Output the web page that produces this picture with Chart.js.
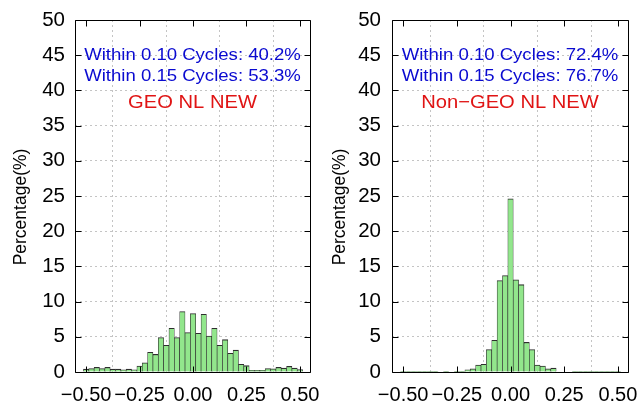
<!DOCTYPE html>
<html>
<head>
<meta charset="utf-8">
<script src="https://cdn.jsdelivr.net/npm/chart.js@4.4.1/dist/chart.umd.min.js"></script>
<style>
  html, body { margin: 0; padding: 0; background: #ffffff; }
  #wrap { position: relative; width: 639px; height: 403px; overflow: hidden; }
  canvas { position: absolute; top: 0; }
</style>
</head>
<body>
<div id="wrap">
  <canvas id="geo" width="320" height="403" style="left:0px"></canvas>
  <canvas id="nongeo" width="319" height="403" style="left:320px"></canvas>
</div>
<script>
// Histogram bin centres (cycles), bin width 0.025
const binCenters = [
  -0.500, -0.475, -0.450, -0.425, -0.400, -0.375, -0.350, -0.325, -0.300, -0.275,
  -0.250, -0.225, -0.200, -0.175, -0.150, -0.125, -0.100, -0.075, -0.050, -0.025,
   0.000,
   0.025,  0.050,  0.075,  0.100,  0.125,  0.150,  0.175,  0.200,  0.225,  0.250,
   0.275,  0.300,  0.325,  0.350,  0.375,  0.400,  0.425,  0.450,  0.475,  0.500
];

// Percentage of residuals per bin, GEO satellites
const geoPct = [
  0.40, 0.50, 0.65, 0.50, 0.65, 0.40, 0.40, 0.30, 0.40, 0.30,
  0.85, 1.30, 2.80, 2.50, 4.90, 3.80, 6.20, 4.90, 8.60, 5.60,
  8.30,
  5.50, 8.20, 5.10, 6.20, 3.80, 4.60, 2.65, 3.10, 1.10, 0.90,
  0.25, 0.25, 0.25, 0.50, 0.45, 0.65, 0.55, 0.80, 0.55, 0.35
];

// Percentage of residuals per bin, non-GEO satellites
const nonGeoPct = [
  0.10, 0.10, 0.10, 0.10, 0.10, 0.10, 0.10, 0.00, 0.10, 0.00,
  0.10, 0.10, 0.30, 0.45, 1.00, 1.10, 3.20, 4.50, 13.00, 13.70,
  24.60,
  13.10, 12.40, 4.20, 3.20, 1.00, 0.85, 0.45, 0.55, 0.00, 0.00,
  0.00, 0.10, 0.10, 0.10, 0.10, 0.10, 0.10, 0.10, 0.10, 0.10
];

const xTickValues = [-0.5, -0.25, 0, 0.25, 0.5];
const xTickLabels = ['\u22120.50', '\u22120.25', '0.00', '0.25', '0.50'];
const yTickValues = [0, 5, 10, 15, 20, 25, 30, 35, 40, 45, 50];

const yAxisTitle = 'Percentage(%)';
const geoStats = ['Within 0.10 Cycles: 40.2%', 'Within 0.15 Cycles: 53.3%'];
const geoTitle = 'GEO NL NEW';
const nonGeoStats = ['Within 0.10 Cycles: 72.4%', 'Within 0.15 Cycles: 76.7%'];
const nonGeoTitle = 'Non\u2212GEO NL NEW';

const FONT = '"Liberation Sans", Arial, Helvetica, sans-serif';

function drawStretched(ctx, text, cx, cy, size, sx, color) {
  ctx.save();
  ctx.font = size + 'px ' + FONT;
  ctx.fillStyle = color;
  ctx.textAlign = 'center';
  ctx.textBaseline = 'middle';
  ctx.translate(cx, cy);
  ctx.scale(sx, 1);
  ctx.fillText(text, 0, 0);
  ctx.restore();
}

// Box frame, inward tick marks, y-axis title and the text notes in each panel
const panelDecor = {
  id: 'panelDecor',
  afterDatasetsDraw(chart) {
    const ctx = chart.ctx;
    const a = chart.chartArea;
    const xs = chart.scales.x, ys = chart.scales.y;
    ctx.save();
    ctx.strokeStyle = '#000000';
    ctx.lineWidth = 1;
    ctx.beginPath();
    const L = Math.round(a.left) + 0.5, R = Math.round(a.right) + 0.5;
    const T = Math.round(a.top) + 0.5, B = Math.round(a.bottom) + 0.5;
    ctx.rect(L, T, R - L, B - T);
    const tl = 6;
    xTickValues.forEach(v => {
      const px = Math.round(xs.getPixelForValue(v)) + 0.5;
      ctx.moveTo(px, B); ctx.lineTo(px, B - tl);
      ctx.moveTo(px, T); ctx.lineTo(px, T + tl);
    });
    yTickValues.forEach(v => {
      const py = Math.round(ys.getPixelForValue(v)) + 0.5;
      ctx.moveTo(L, py); ctx.lineTo(L + tl, py);
      ctx.moveTo(R, py); ctx.lineTo(R - tl, py);
    });
    ctx.stroke();
    ctx.restore();
  },
  afterDraw(chart, args, opts) {
    const ctx = chart.ctx;
    const a = chart.chartArea;
    const ys = chart.scales.y;
    const cx = (a.left + a.right) / 2;
    drawStretched(ctx, opts.stats[0], cx, ys.getPixelForValue(45.0), 16, 1.16, '#0a0ad0');
    drawStretched(ctx, opts.stats[1], cx, ys.getPixelForValue(41.9), 16, 1.16, '#0a0ad0');
    drawStretched(ctx, opts.title, cx, ys.getPixelForValue(38.2), 18.5, 1.09, '#e01414');
    // y-axis title
    ctx.save();
    ctx.font = '17.5px ' + FONT;
    ctx.fillStyle = '#000000';
    ctx.textAlign = 'center';
    ctx.textBaseline = 'middle';
    ctx.translate(opts.titleX, 207);
    ctx.rotate(-Math.PI / 2);
    ctx.fillText(yAxisTitle, 0, 0);
    ctx.restore();
  }
};

function makePanel(id, values, stats, title, yAxisWidth, padRight, tickPad, titleX) {
  return new Chart(document.getElementById(id), {
    type: 'bar',
    data: {
      datasets: [{
        data: binCenters.map((c, i) => ({ x: c, y: values[i] })),
        backgroundColor: '#92e68c',
        borderColor: '#2e2e2e',
        borderWidth: { top: 1.1, left: 0.65, right: 0.65, bottom: 0 },
        borderSkipped: 'start',
        barPercentage: 1,
        categoryPercentage: 1
      }]
    },
    options: {
      responsive: false,
      animation: false,
      devicePixelRatio: 1,
      layout: { padding: { left: 0, right: padRight, top: 20, bottom: 0 } },
      plugins: {
        legend: { display: false },
        tooltip: { enabled: false },
        panelDecor: { stats: stats, title: title, titleX: titleX }
      },
      scales: {
        x: {
          type: 'linear',
          min: -0.552,
          max: 0.547,
          offset: false,
          afterBuildTicks: s => { s.ticks = xTickValues.map(v => ({ value: v })); },
          afterFit: s => { s.height = 31; s.paddingLeft = 0; s.paddingRight = 0; },
          ticks: {
            autoSkip: false,
            maxRotation: 0,
            padding: 11,
            color: '#000000',
            font: { family: FONT, size: 20 },
            callback: v => xTickLabels[xTickValues.indexOf(v)]
          },
          grid: { color: '#c4c4c4', lineWidth: 1, drawTicks: false },
          border: { display: false, dash: [2, 3] }
        },
        y: {
          min: 0,
          max: 50,
          afterBuildTicks: s => { s.ticks = yTickValues.map(v => ({ value: v })); },
          afterFit: s => { s.width = yAxisWidth; s.paddingTop = 0; s.paddingBottom = 0; },
          ticks: {
            padding: tickPad,
            color: '#000000',
            font: { family: FONT, size: 20.5 }
          },
          grid: { color: '#c4c4c4', lineWidth: 1, drawTicks: false },
          border: { display: false, dash: [2, 3] }
        }
      }
    },
    plugins: [panelDecor]
  });
}

makePanel('geo', geoPct, geoStats, geoTitle, 75, 10, 10, 21);
makePanel('nongeo', nonGeoPct, nonGeoStats, nonGeoTitle, 72, 11, 11, 20);
</script>
</body>
</html>
